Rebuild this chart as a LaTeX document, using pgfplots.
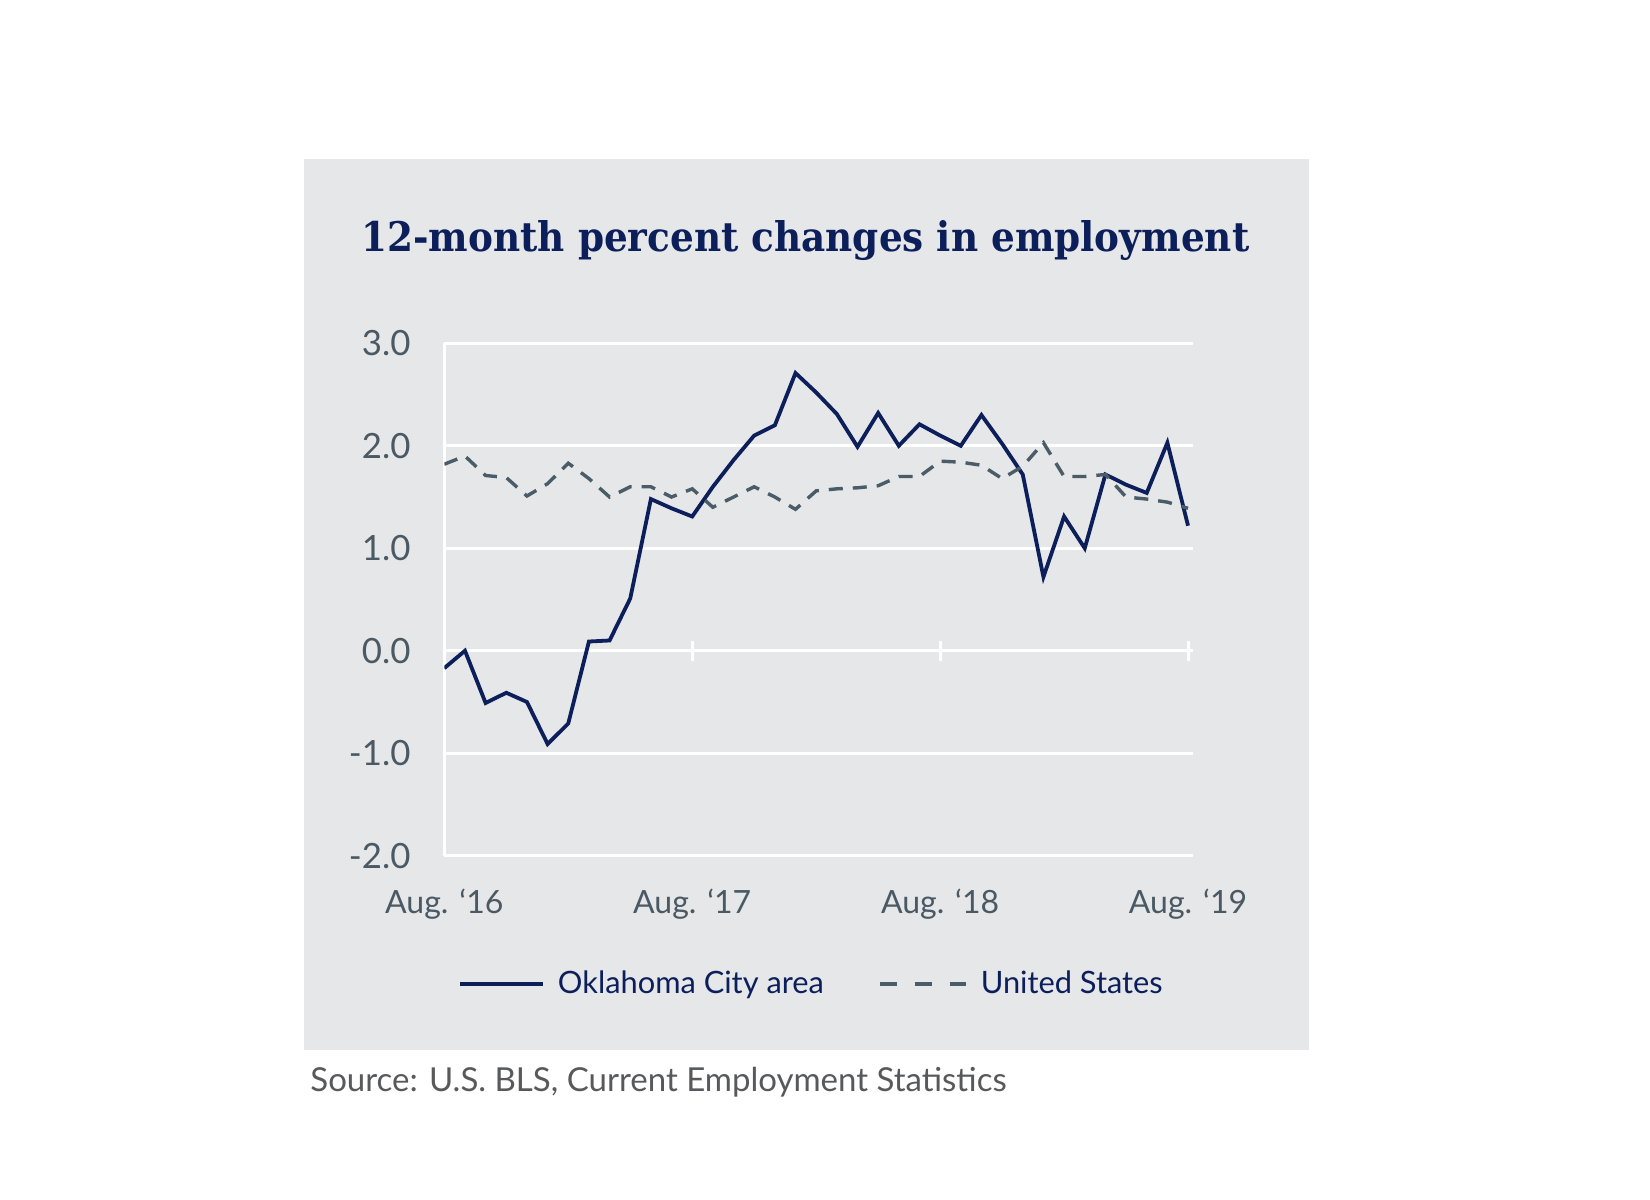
\documentclass[border=0pt]{standalone}
\usepackage{fontspec}
\setmainfont{Lato}
\newfontfamily\titlefont{DejaVu Serif}
\usepackage{pgfplots}
\pgfplotsset{compat=1.18}
\definecolor{panel}{HTML}{E6E7E9}
\definecolor{navy}{HTML}{0C1F5B}
\definecolor{usgray}{HTML}{4A5C67}
\definecolor{lbl}{HTML}{4A5963}
\definecolor{src}{HTML}{58595B}
\begin{document}
\begin{tikzpicture}
\fill[white] (0,0) rectangle (825pt,600pt);
\path[use as bounding box] (0,0) rectangle (825pt,600pt);
\fill[panel] (152pt,75pt) rectangle (654.5pt,520.5pt);
\node[anchor=base west, inner sep=0pt, text=navy] at (180.5pt,474.15pt) {\resizebox{444pt}{15.5pt}{\titlefont\bfseries 12-month percent changes in employment}};
\node[anchor=base west, inner sep=0pt, text=src] at (155pt,54pt) {\fontsize{16.5}{20}\selectfont Source: U.S. BLS, Current Employment Statistics};
\begin{axis}[
  at={(222.15pt,172.15pt)}, anchor=south west,
  scale only axis, width=374.35pt, height=256.2pt,
  xmin=0, xmax=36.24, ymin=-2, ymax=3,
  axis line style={draw=none},
  major tick length=0pt,
  ytick={-2,-1,0,1,2,3}, yticklabels={-2.0,-1.0,0.0,1.0,2.0,3.0},
  xtick={0,12,24,36}, xticklabels={Aug. ‘16,Aug. ‘17,Aug. ‘18,Aug. ‘19},
  ymajorgrids=true,
  major grid style={white, line width=1.4pt},
  extra x ticks={0}, extra x tick labels={},
  extra x tick style={grid=major, major grid style={white, line width=1.4pt}},
  yticklabel style={anchor=east, inner sep=0pt, xshift=-16.7pt, font=\fontsize{17.4}{20}\selectfont, text=lbl},
  xticklabel style={anchor=base, inner sep=0pt, yshift=-28.8pt, font=\fontsize{16}{19}\selectfont, text=lbl},
  legend columns=2,
  legend style={at={(0.489,-0.2504)}, anchor=center, draw=none, fill=none,
    font=\fontsize{15.4}{18}\selectfont, text=navy,
    nodes={inner sep=0pt},
    /tikz/every odd column/.append style={column sep=6.5pt},
    /tikz/every even column/.append style={column sep=27pt}},
  legend cell align=left,
]
\addplot[white, only marks, mark=|, mark size=5pt, mark options={line width=1.5pt}, forget plot] coordinates {(12,0)(24,0)(36,0)};
\addplot[navy, line width=1.9pt,
  legend image code/.code={\draw[navy, line width=1.9pt] (0pt,0pt) -- (41.5pt,0pt);}]
coordinates {
(0,-0.17)(1,0.00)(2,-0.51)(3,-0.41)(4,-0.50)(5,-0.91)(6,-0.71)(7,0.09)(8,0.10)(9,0.51)
(10,1.48)(11,1.39)(12,1.31)(13,1.60)(14,1.86)(15,2.10)(16,2.20)(17,2.71)(18,2.52)(19,2.31)
(20,1.99)(21,2.32)(22,2.00)(23,2.21)(24,2.10)(25,2.00)(26,2.30)(27,2.02)(28,1.72)(29,0.72)
(30,1.31)(31,1.00)(32,1.72)(33,1.62)(34,1.54)(35,2.03)(36,1.22)};
\addlegendentry{Oklahoma City area}
\addplot[usgray, line width=1.7pt, dash pattern=on 7pt off 5pt,
  legend image code/.code={\draw[usgray, line width=1.9pt, dash pattern=on 8.5pt off 9pt] (0pt,0pt) -- (43pt,0pt);}]
coordinates {
(0,1.82)(1,1.90)(2,1.71)(3,1.69)(4,1.51)(5,1.63)(6,1.83)(7,1.68)(8,1.50)(9,1.60)
(10,1.60)(11,1.50)(12,1.58)(13,1.40)(14,1.50)(15,1.60)(16,1.50)(17,1.38)(18,1.56)(19,1.58)
(20,1.59)(21,1.61)(22,1.70)(23,1.70)(24,1.85)(25,1.84)(26,1.81)(27,1.68)(28,1.80)(29,2.03)
(30,1.70)(31,1.70)(32,1.72)(33,1.50)(34,1.48)(35,1.45)(36,1.39)};
\addlegendentry{United States}
\end{axis}
\end{tikzpicture}
\end{document}
